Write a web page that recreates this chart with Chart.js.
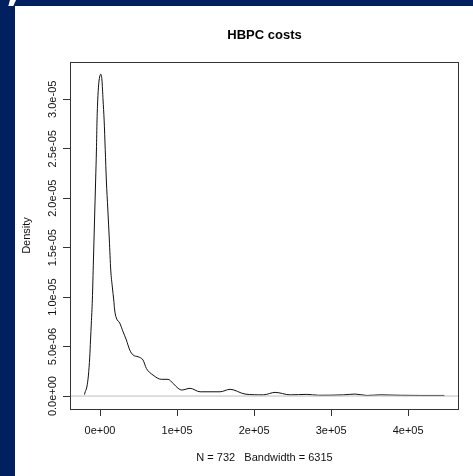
<!DOCTYPE html>
<html>
<head>
<meta charset="utf-8">
<script src="https://cdn.jsdelivr.net/npm/chart.js@4"></script>
<style>
html,body{margin:0;padding:0;background:#fff;}
canvas{display:block;}
</style>
</head>
<body>
<canvas id="c" width="473" height="476"></canvas>
<script>
// Cost values (x) and estimated density (y, in units of 1e-6)
const costs = [-20100,-19740,-17140,-15060,-13380,-12340,-11300,-10000,-8570,-7140,-5710,-4680,-3900,-2990,-1820,-520,910,
  2470,3900,5320,6750,8180,10130,12080,13900,15970,17790,18960,21170,25580,29900,34200,38600,42900,49400,
  55800,60100,68800,79600,88300,94800,101300,106100,116900,129900,155800,168800,188300,212100,227300,246800,
  268400,283500,316000,331200,346400,363600,389600,415600,447000];
const densityE6 = [0.15,0.3,0.91,2.12,3.94,5.66,7.38,9.71,13.75,17.8,21.84,24.87,27.91,29.93,31.45,32.26,32.54,
  31.95,29.93,27.9,24.9,21.84,18.81,15.77,12.74,11.02,9.71,8.7,7.89,7.38,6.5,5.66,4.65,4.15,3.97,
  3.64,2.8,2.12,1.69,1.69,1.28,0.78,0.61,0.78,0.43,0.43,0.68,0.2,0.12,0.37,0.12,
  0.17,0.08,0.12,0.2,0.06,0.12,0.08,0.06,0.06];
const xTickValues = [0,100000,200000,300000,400000];
const xTickLabels = ['0e+00','1e+05','2e+05','3e+05','4e+05'];
const yTickValues = [0,5e-6,1e-5,1.5e-5,2e-5,2.5e-5,3e-5];
const yTickLabels = ['0.0e+00','5.0e-06','1.0e-05','1.5e-05','2.0e-05','2.5e-05','3.0e-05'];
const xMin = -39000, xMax = 466000;
const yMin = -1.31e-6, yMax = 33.77e-6;

const FONT = "'Liberation Sans', Arial, sans-serif";
const NAVY = '#00205f';

const curve = costs.map((v,i)=>({x:v, y:densityE6[i]*1e-6}));
const zeroLine = [{x:xMin,y:0},{x:xMax,y:0}];

const bgPlugin = {
  id:'bg',
  beforeDraw(chart){
    const ctx = chart.ctx;
    ctx.save();
    ctx.fillStyle = '#fff';
    ctx.fillRect(0,0,chart.width,chart.height);
    ctx.fillStyle = NAVY;
    ctx.fillRect(0,0,chart.width,6);
    ctx.fillRect(0,0,15,chart.height);
    ctx.fillStyle = '#fff';
    ctx.beginPath();
    ctx.moveTo(10,0); ctx.lineTo(16,0); ctx.lineTo(13.3,6); ctx.lineTo(8.3,6); ctx.closePath();
    ctx.fill();
    ctx.restore();
  },
  afterDatasetsDraw(chart){
    const {ctx, chartArea:a} = chart;
    ctx.save();
    ctx.strokeStyle = '#333';
    ctx.lineWidth = 1;
    ctx.strokeRect(a.left+0.5, a.top+0.5, a.right-a.left-1, a.bottom-a.top);
    ctx.restore();
  }
};

new Chart(document.getElementById('c'), {
  type:'line',
  data:{
    datasets:[
      {data:zeroLine, borderColor:'#bebebe', borderWidth:1, pointRadius:0, order:0},
      {data:curve, borderColor:'#111', borderWidth:1, pointRadius:0, cubicInterpolationMode:'monotone', order:1}
    ]
  },
  options:{
    responsive:false,
    animation:false,
    devicePixelRatio:1,
    layout:{padding:{left:0,top:0,right:14,bottom:0}},
    plugins:{
      legend:{display:false},
      tooltip:{enabled:false},
      title:{display:true, text:'HBPC costs', fullSize:false, color:'#000',
        font:{family:FONT, size:13, weight:'bold'}, padding:{top:27.2,bottom:19.2}}
    },
    scales:{
      x:{
        type:'linear', min:xMin, max:xMax,
        afterFit(s){ s.height = 67; },
        afterBuildTicks(s){ s.ticks = xTickValues.map(v=>({value:v})); },
        ticks:{ color:'#111', font:{family:FONT,size:11}, padding:8, maxRotation:0, autoSkip:false,
          callback:(v)=>{ const i = xTickValues.indexOf(v); return i>=0 ? xTickLabels[i] : ''; } },
        grid:{ drawOnChartArea:false, drawTicks:true, tickLength:7, tickColor:'#333', color:'#333' },
        border:{display:false},
        title:{display:true, text:'N = 732   Bandwidth = 6315', color:'#111',
          font:{family:FONT,size:11}, padding:{top:0,bottom:11.4}}
      },
      y:{
        type:'linear', min:yMin, max:yMax,
        afterFit(s){ s.width = 70; },
        afterBuildTicks(s){ s.ticks = yTickValues.map(v=>({value:v})); },
        ticks:{ color:'#111', font:{family:FONT,size:11}, padding:-9.7, minRotation:90, maxRotation:90,
          crossAlign:'center', autoSkip:false,
          callback:(v)=>{ const i = yTickValues.indexOf(v); return i>=0 ? yTickLabels[i] : ''; } },
        grid:{ drawOnChartArea:false, drawTicks:true, tickLength:7, tickColor:'#333', color:'#333' },
        border:{display:false},
        title:{display:true, text:'Density', color:'#111',
          font:{family:FONT,size:11}, padding:{top:20.4,bottom:0}}
      }
    }
  },
  plugins:[bgPlugin]
});
</script>
</body>
</html>
